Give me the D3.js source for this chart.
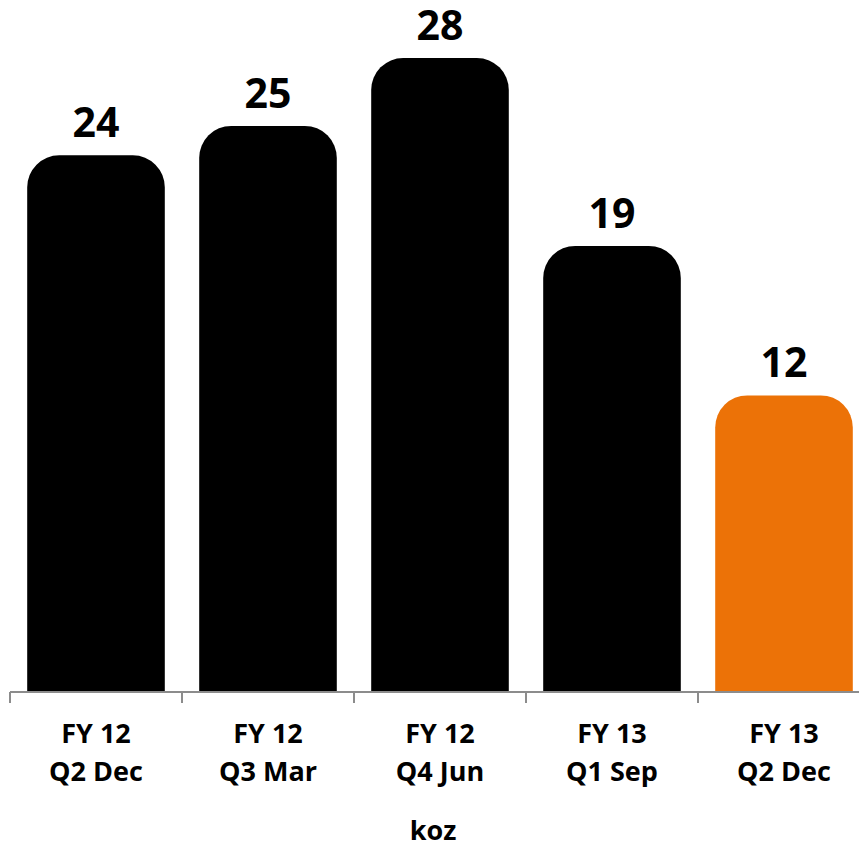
<!DOCTYPE html>
<html lang="en">
  <head>
    <meta charset="UTF-8" />
    <title>koz by quarter</title>
    <style>
      body {
        margin: 0;
        padding: 0;
        background: #fff;
        font-family: "Open Sans", Arial, sans-serif;
      }
    </style>
    <script src="https://d3js.org/d3.v7.min.js"></script>
  </head>
  <body>
  </body>
  <script>
    // categories, split in two lines
    const years = ["FY 12", "FY 12", "FY 12", "FY 13", "FY 13"]
    const quarters = ["Q2 Dec", "Q3 Mar", "Q4 Jun", "Q1 Sep", "Q2 Dec"]
    const values = [23.7, 25.0, 28.0, 19.7, 13.1]
    const labels = ["24", "25", "28", "19", "12"]
    const highlight = [false, false, false, false, true]
    const unit = "koz"

    const width = 859, height = 844
    const baseY = 692, topY = 58
    const r = 32

    const svg = d3.select("body").append("svg")
        .attr("width", width)
        .attr("height", height)

    const keys = years.map((d, i) => i)

    const x = d3.scaleBand()
        .domain(keys)
        .range([10, 870])
        .paddingInner(0.2)
        .paddingOuter(0.1)

    const y = d3.scaleLinear()
        .domain([0, 28])
        .range([baseY, topY])

    function topRounded(x0, y0, w, h) {
      const rr = Math.min(r, w / 2, h)
      return `M${x0},${y0 + h}V${y0 + rr}A${rr},${rr} 0 0 1 ${x0 + rr},${y0}` +
        `H${x0 + w - rr}A${rr},${rr} 0 0 1 ${x0 + w},${y0 + rr}V${y0 + h}Z`
    }

    svg.selectAll("path.bar")
      .data(values)
      .enter().append("path")
        .attr("class", "bar")
        .attr("d", (d, i) => topRounded(x(i), y(d), x.bandwidth(), baseY - y(d)))
        .attr("fill", (d, i) => highlight[i] ? "#ec7207" : "#000")

    // axis line and ticks at band edges
    svg.append("line")
        .attr("x1", 10).attr("x2", 870)
        .attr("y1", baseY).attr("y2", baseY)
        .attr("stroke", "#8c8c8c")
        .attr("stroke-width", 2)

    const step = x.step()
    const edges = d3.range(keys.length + 1).map(i => x(0) - x.paddingOuter() * step + i * step)
    svg.selectAll("line.tick")
      .data(edges)
      .enter().append("line")
        .attr("class", "tick")
        .attr("x1", d => d).attr("x2", d => d)
        .attr("y1", baseY).attr("y2", baseY + 11)
        .attr("stroke", "#8c8c8c")
        .attr("stroke-width", 2)

    // value labels
    svg.selectAll("text.value")
      .data(values)
      .enter().append("text")
        .attr("class", "value")
        .attr("x", (d, i) => x(i) + x.bandwidth() / 2)
        .attr("y", d => y(d) - 18)
        .attr("text-anchor", "middle")
        .attr("font-size", "41px")
        .attr("font-weight", "bold")
        .attr("fill", "#000")
        .text((d, i) => labels[i])

    // category labels
    const cat = svg.selectAll("text.cat")
      .data(keys)
      .enter().append("text")
        .attr("class", "cat")
        .attr("text-anchor", "middle")
        .attr("font-size", "27px")
        .attr("font-weight", "bold")
        .attr("fill", "#000")

    cat.append("tspan")
        .attr("x", d => x(d) + x.bandwidth() / 2)
        .attr("y", 743)
        .text(d => years[d])
    cat.append("tspan")
        .attr("x", d => x(d) + x.bandwidth() / 2)
        .attr("y", 781)
        .text(d => quarters[d])

    svg.append("text")
        .attr("x", 433)
        .attr("y", 840)
        .attr("text-anchor", "middle")
        .attr("font-size", "27px")
        .attr("font-weight", "bold")
        .attr("fill", "#000")
        .text(unit)
  </script>
</html>
